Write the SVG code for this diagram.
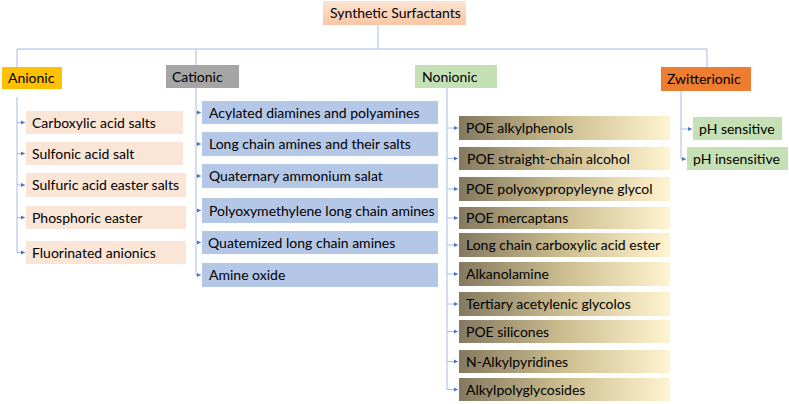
<svg xmlns="http://www.w3.org/2000/svg" width="789" height="404" viewBox="0 0 789 404">
<style>
text{font-family:Lato,"Open Sans","Liberation Sans",sans-serif;font-size:14px;fill:#000}
.c{fill:none;stroke:#A4BCE6;stroke-width:1}
.a{fill:none;stroke:#A4BCE6;stroke-width:1;marker-end:url(#ah)}
.an{fill:#FBE5D6}
.ca{fill:#B4C7E7}
.no{fill:url(#gNon)}
.gr{fill:#C5E0B4}
</style>
<defs>
<marker id="ah" markerUnits="userSpaceOnUse" markerWidth="5" markerHeight="5" refX="4" refY="2.5" orient="auto">
<path d="M0,0.5 L4,2.5 L0,4.5 z" fill="#4472C4"/>
</marker>
<linearGradient id="gNon" x1="0" y1="0" x2="1" y2="0">
<stop offset="0" stop-color="#847960"/>
<stop offset="0.5" stop-color="#CDBE90"/>
<stop offset="1" stop-color="#FFF4D0"/>
</linearGradient>
<linearGradient id="gRoot" x1="0" y1="0" x2="0" y2="1">
<stop offset="0" stop-color="#FDE4D3"/>
<stop offset="1" stop-color="#F8C6A4"/>
</linearGradient>
</defs>
<g id="connectors">
<path class="c" d="M378,25 V49 M17,67 V49 H707 V67 M196,49 V65"/>
<path class="c" d="M17,97 V253 M196,88 V275 M447,88 V389.5 M681,91 V159"/>
<path class="a" d="M17,122.5 H25"/>
<path class="a" d="M17,153.5 H25"/>
<path class="a" d="M17,185 H25"/>
<path class="a" d="M17,217.5 H25"/>
<path class="a" d="M17,252.5 H25"/>
<path class="a" d="M196,112.5 H201"/>
<path class="a" d="M196,144 H201"/>
<path class="a" d="M196,176 H201"/>
<path class="a" d="M196,210.5 H201"/>
<path class="a" d="M196,242.5 H201"/>
<path class="a" d="M196,275 H201"/>
<path class="a" d="M447,128 H458"/>
<path class="a" d="M447,158.5 H458"/>
<path class="a" d="M447,189 H458"/>
<path class="a" d="M447,218 H458"/>
<path class="a" d="M447,245 H458"/>
<path class="a" d="M447,274 H458"/>
<path class="a" d="M447,304 H458"/>
<path class="a" d="M447,331.5 H458"/>
<path class="a" d="M447,361.5 H458"/>
<path class="a" d="M447,389.5 H458"/>
<path class="a" d="M681,129 H692"/>
<path class="a" d="M681,159 H686"/>
</g>
<g id="root"><rect x="323" y="1" width="143" height="24" fill="url(#gRoot)"/><text x="330" y="18">Synthetic Surfactants</text></g>
<g id="anionic"><rect x="2" y="67" width="60" height="22" fill="#FFC000"/><text x="8" y="83">Anionic</text></g>
<g id="cationic"><rect x="166" y="65" width="73" height="23" fill="#A5A5A5"/><text x="172" y="81.5">Cationic</text></g>
<g id="nonionic"><rect x="415" y="65" width="82" height="23" fill="#C5E0B4"/><text x="422" y="81.5">Nonionic</text></g>
<g id="zwitterionic"><rect x="661" y="67" width="90" height="24" fill="#ED7D31"/><text x="667" y="84">Zwitterionic</text></g>

<g id="an1"><rect class="an" x="26" y="111" width="157" height="23"/><text x="32" y="127.5">Carboxylic acid salts</text></g>
<g id="an2"><rect class="an" x="26" y="142" width="157" height="23"/><text x="32" y="158.5">Sulfonic acid salt</text></g>
<g id="an3"><rect class="an" x="26" y="173" width="160" height="24"/><text x="32" y="190">Sulfuric acid easter salts</text></g>
<g id="an4"><rect class="an" x="26" y="206" width="160" height="23"/><text x="32" y="222.5">Phosphoric easter</text></g>
<g id="an5"><rect class="an" x="26" y="241" width="160" height="23"/><text x="32" y="257.5">Fluorinated anionics</text></g>

<g id="ca1"><rect class="ca" x="202" y="101" width="236" height="23"/><text x="209" y="117.5">Acylated diamines and polyamines</text></g>
<g id="ca2"><rect class="ca" x="202" y="132" width="236" height="24"/><text x="209" y="149">Long chain amines and their salts</text></g>
<g id="ca3"><rect class="ca" x="202" y="164" width="236" height="24"/><text x="209" y="181">Quaternary ammonium salat</text></g>
<g id="ca4"><rect class="ca" x="202" y="198" width="236" height="25"/><text x="209" y="215.5">Polyoxymethylene long chain amines</text></g>
<g id="ca5"><rect class="ca" x="202" y="231" width="236" height="23"/><text x="208" y="247.5">Quatemized long chain amines</text></g>
<g id="ca6"><rect class="ca" x="202" y="263" width="236" height="24"/><text x="209" y="280">Amine oxide</text></g>

<g id="no1"><rect class="no" x="459" y="116" width="211" height="24"/><text x="466" y="133">POE alkylphenols</text></g>
<g id="no2"><rect class="no" x="459" y="147" width="211" height="23"/><text x="467" y="163.5">POE straight-chain alcohol</text></g>
<g id="no3"><rect class="no" x="459" y="177" width="211" height="24"/><text x="466" y="194">POE polyoxypropyleyne glycol</text></g>
<g id="no4"><rect class="no" x="459" y="207" width="211" height="22"/><text x="466" y="223">POE mercaptans</text></g>
<g id="no5"><rect class="no" x="459" y="233" width="211" height="24"/><text x="466" y="250">Long chain carboxylic acid ester</text></g>
<g id="no6"><rect class="no" x="459" y="262" width="211" height="24"/><text x="466" y="279">Alkanolamine</text></g>
<g id="no7"><rect class="no" x="459" y="292" width="211" height="24"/><text x="466" y="309">Tertiary acetylenic glycolos</text></g>
<g id="no8"><rect class="no" x="459" y="320" width="211" height="23"/><text x="466" y="336.5">POE silicones</text></g>
<g id="no9"><rect class="no" x="459" y="350" width="211" height="23"/><text x="466" y="366.5">N-Alkylpyridines</text></g>
<g id="no10"><rect class="no" x="459" y="378" width="211" height="23"/><text x="466" y="394.5">Alkylpolyglycosides</text></g>

<g id="zw1"><rect class="gr" x="693" y="117" width="89" height="23"/><text x="699" y="133.5">pH sensitive</text></g>
<g id="zw2"><rect class="gr" x="687" y="147" width="101" height="23"/><text x="693" y="163.5">pH insensitive</text></g>
</svg>
